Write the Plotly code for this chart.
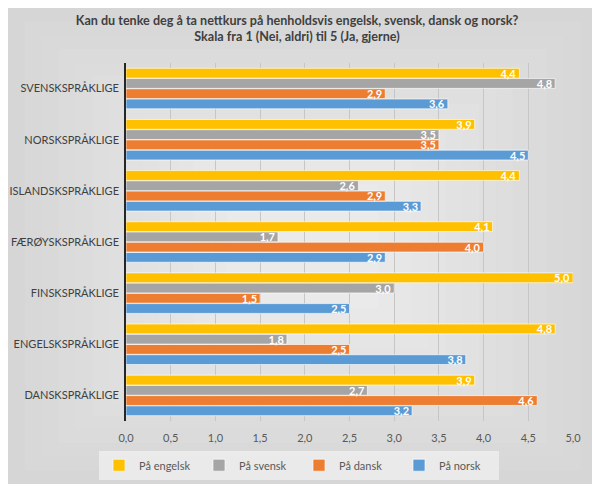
import plotly.graph_objects as go

categories = ["DANSKSPRÅKLIGE", "ENGELSKSPRÅKLIGE", "FINSKSPRÅKLIGE", "FÆRØYSKSPRÅKLIGE",
              "ISLANDSKSPRÅKLIGE", "NORSKSPRÅKLIGE", "SVENSKSPRÅKLIGE"]
paa_engelsk = [3.9, 4.8, 5.0, 4.1, 4.4, 3.9, 4.4]
paa_svensk = [2.7, 1.8, 3.0, 1.7, 2.6, 3.5, 4.8]
paa_dansk = [4.6, 2.5, 1.5, 4.0, 2.9, 3.5, 2.9]
paa_norsk = [3.2, 3.8, 2.5, 2.9, 3.3, 4.5, 3.6]
x_ticks = [0, 0.5, 1.0, 1.5, 2.0, 2.5, 3.0, 3.5, 4.0, 4.5, 5.0]

series = [
    ("På norsk", paa_norsk, "#5B9BD5"),
    ("På dansk", paa_dansk, "#ED7D31"),
    ("På svensk", paa_svensk, "#A5A5A5"),
    ("På engelsk", paa_engelsk, "#FFC000"),
]

# page shows the figure offset by the 8px body margin
W, H = 592, 480
ML, MR, MT, MB = 118, 27, 55, 67
PW, PH = W - ML - MR, H - MT - MB


def px(xpix):
    return (xpix - ML) / PW


def py(ypix):
    return (H - MB - ypix) / PH


fig = go.Figure()

# background: gray panel with lighter centre (approximating a radial gradient)
x0, x1, y0, y1 = 0, 589, 0, 476
cx, cy = (x0 + x1) / 2, (y0 + y1) / 2
steps = 14
c_out, c_in = 0xD6, 0xEA
for i in range(steps):
    f = i / steps
    v = int(round(c_out + (c_in - c_out) * (i / (steps - 1))))
    col = f"#{v:02x}{v:02x}{v:02x}"
    hx = (x1 - x0) / 2 * (1 - 0.8 * f)
    hy = (y1 - y0) / 2 * (1 - 0.8 * f)
    fig.add_shape(type="rect", xref="paper", yref="paper",
                  x0=px(cx - hx), x1=px(cx + hx), y0=py(cy + hy), y1=py(cy - hy),
                  fillcolor=col, line=dict(width=0), layer="below")

for name, vals, col in series:
    labels = [f"{v:.1f}".replace(".", ",") for v in vals]
    fig.add_trace(go.Bar(
        y=categories, x=vals, name=name, orientation="h",
        marker=dict(color=col, line=dict(color="rgba(255,255,255,0.8)", width=0.8)),
        text=labels, texttemplate="<b>%{text}</b>", textposition="inside",
        insidetextanchor="end",
        textfont=dict(color="white", size=11, family="Lato"),
        cliponaxis=False,
    ))

fig.update_layout(
    width=W, height=H,
    barmode="group", bargap=0.2, bargroupgap=0.04,
    separators=", ",
    paper_bgcolor="white", plot_bgcolor="rgba(0,0,0,0)",
    font=dict(family="Lato", color="#595959", size=11),
    title=dict(
        text="<b>Kan du tenke deg å ta nettkurs på henholdsvis engelsk, svensk, dansk og norsk?<br>Skala fra 1 (Nei, aldri) til 5 (Ja, gjerne)</b>",
        x=(297 - 8) / W, xanchor="center", y=1 - 17 / H, yanchor="top",
        font=dict(size=12.6, color="#404040", family="Lato"),
    ),
    margin=dict(l=ML, r=MR, t=MT, b=MB, autoexpand=False),
    xaxis=dict(range=[0, 5.0], tickvals=x_ticks, tickformat=".1f",
               showgrid=True, gridcolor="#c6c6c6", gridwidth=1, zeroline=False,
               ticks="", ticklabelstandoff=9,
               tickfont=dict(size=11, color="#595959"), fixedrange=True,
               automargin=False),
    yaxis=dict(showline=True, linecolor="#262626", linewidth=2, ticks="",
               tickfont=dict(size=11, color="#404040"), showgrid=False,
               ticksuffix=" ", automargin=False),
    legend=dict(orientation="h", x=px(299 - 8), xanchor="center", y=-0.083, yanchor="top",
                traceorder="reversed", bgcolor="rgba(236,236,236,0.9)",
                font=dict(size=11, color="#595959"), itemwidth=30,
                entrywidth=55, entrywidthmode="pixels"),
    uniformtext=dict(minsize=8, mode="show"),
)

fig.write_html("out.html")
